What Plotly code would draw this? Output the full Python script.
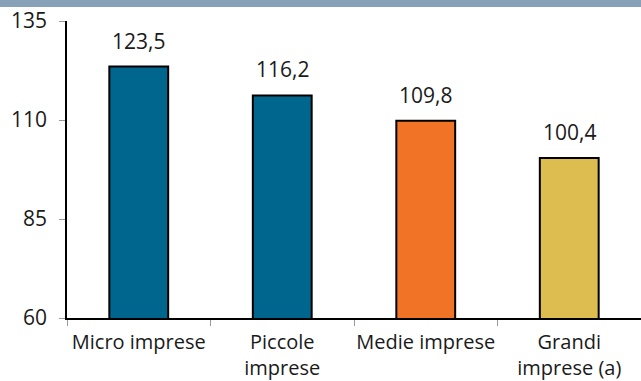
import plotly.graph_objects as go

categories = ["Micro imprese", "Piccole<br>imprese", "Medie imprese", "Grandi<br>imprese (a)"]
values = [123.5, 116.2, 109.8, 100.4]
value_labels = ["123,5", "116,2", "109,8", "100,4"]
colors = ["#00668E", "#00668E", "#F07326", "#DDBD50"]
y_ticks = [60, 85, 110, 135]

FONT = "Open Sans"
TXT = "#1a1a1a"

fig = go.Figure()
fig.add_trace(go.Bar(
    x=categories, y=values,
    marker=dict(color=colors, line=dict(color="black", width=2)),
    width=0.41,
    hoverinfo="skip",
))
for c, v, t in zip(categories, values, value_labels):
    fig.add_annotation(x=c, y=v, text=t, showarrow=False, yanchor="bottom",
                       yshift=10, font=dict(size=21, color=TXT, family=FONT))

# header band at the top of the image
fig.add_shape(type="rect", xref="paper", yref="paper", x0=-0.2, x1=1.1,
              y0=1.047, y1=1.2, fillcolor="#87A2B8",
              line=dict(width=0), layer="above")

fig.update_layout(
    width=641, height=381,
    margin=dict(l=67, r=0, t=21, b=63),
    paper_bgcolor="white", plot_bgcolor="white",
    showlegend=False,
    font=dict(family=FONT, size=20, color=TXT),
)
fig.update_xaxes(
    showline=True, linecolor="black", linewidth=1.5,
    ticks="outside", tickson="boundaries", ticklen=6, tickcolor="#999999",
    showgrid=False, tickfont=dict(size=20), ticklabelstandoff=5,
    tickangle=0, automargin=False,
)
fig.update_yaxes(
    range=[60, 135], tickvals=y_ticks, showgrid=False, zeroline=False,
    showline=True, linecolor="black", linewidth=1.5,
    ticks="outside", ticklen=6, tickcolor="#999999", ticklabelstandoff=8,
    tickfont=dict(size=21), automargin=False,
)
fig.write_html("out.html", config={"displayModeBar": False},
               post_script="document.body.style.margin='0';")
